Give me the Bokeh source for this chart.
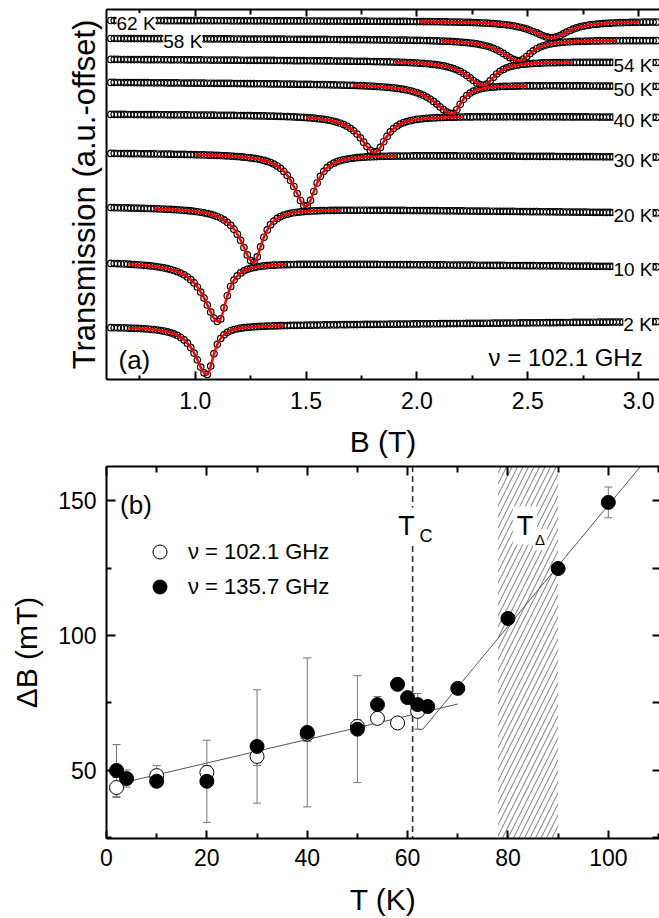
import numpy as np
from bokeh.plotting import figure
from bokeh.layouts import column
from bokeh.models import (Range1d, LinearAxis, FixedTicker, NumeralTickFormatter,
                          CustomJSTickFormatter, Label, Legend, LegendItem)
from bokeh.embed import file_html
from bokeh.resources import INLINE

FONT = "Liberation Sans"

# ---------------- panel (a): transmission spectra at 102.1 GHz ----------------
temp_labels = ["2 K", "10 K", "20 K", "30 K", "40 K", "50 K", "54 K", "58 K", "62 K"]
res_center = [1.053, 1.105, 1.263, 1.50, 1.81, 2.16, 2.30, 2.46, 2.61]      # T
res_depth = [4.9, 5.9, 5.4, 5.2, 3.7, 2.9, 2.4, 2.1, 1.65]                  # a.u.
hw_left = [0.065, 0.08, 0.07, 0.07, 0.08, 0.10, 0.09, 0.095, 0.11]          # T
hw_right = [0.037, 0.045, 0.05, 0.055, 0.062, 0.05, 0.063, 0.068, 0.09]     # T
base_left = [5.3, 11.8, 17.3, 22.7, 26.6, 29.8, 32.1, 34.2, 36.0]           # offset, a.u.
base_right = [5.8, 11.3, 16.7, 22.3, 26.3, 29.4, 31.8, 34.0, 35.9]
fit_from = [0.70, 0.70, 0.81, 1.00, 1.50, 1.71, 1.90, 2.11, 2.01]
fit_to = [1.40, 1.41, 1.66, 1.91, 2.21, 2.50, 2.70, 2.90, 3.00]
label_side = ["right"] * 7 + ["left", "left"]
label_B = [2.931, 2.886, 2.886, 2.886, 2.886, 2.886, 2.886, 0.856, 0.645]
B_first, B_last, B_step = 0.62, 3.09, 0.015
a_major = [1.0, 1.5, 2.0, 2.5, 3.0]
a_minor = [0.75, 1.25, 1.75, 2.25, 2.75]

# ---------------- panel (b): linewidth vs temperature ----------------
T_low = [2, 10, 20, 30, 40, 50, 54, 58, 62]
dB_low = [43.7, 48.1, 49.3, 55.2, 63.5, 66.3, 69.3, 67.6, 71.9]
err_low = [3.7, 3.7, 2.5, 3.4, 2.8, 2.5, 2.0, 2.0, 6.6]
T_high = [2, 4, 10, 20, 30, 40, 50, 54, 58, 60, 62, 64, 70, 80, 90, 100]
dB_high = [50.0, 47.0, 46.0, 46.0, 58.9, 64.1, 65.3, 74.4, 81.9, 77.0, 74.4, 73.7, 80.4,
           106.3, 124.8, 149.3]
err_high = [9.6, 3.2, 2.0, 15.2, 21.0, 27.6, 19.8, 3.0, 2.0, 2.0, 2.0, 2.0, 2.0, 2.0, 2.0, 5.7]
fit1_T = [2, 70]
fit1_dB = [44.9, 74.6]
fit2_T = [61.8, 63.0, 110.0]
fit2_dB = [65.2, 65.2, 170.7]
T_C = 61
T_delta = [78, 90]
b_xmajor = [0, 20, 40, 60, 80, 100]
b_xminor = [10, 30, 50, 70, 90, 110]
b_ymajor = [50, 100, 150]
b_yminor = [25, 75, 125]


def model(B, i):
    B = np.asarray(B, dtype=float)
    frac = (B - B_first) / (B_last - B_first)
    base = base_left[i] + (base_right[i] - base_left[i]) * frac
    w = np.where(B < res_center[i], hw_left[i], hw_right[i])
    return base - res_depth[i] / (1.0 + ((B - res_center[i]) / w) ** 2)


def style_axis(ax, major_in, minor_in, show_labels=True):
    ax.axis_line_width = 2
    ax.axis_line_color = "black"
    ax.major_tick_in = major_in
    ax.major_tick_out = 0
    ax.minor_tick_in = minor_in
    ax.minor_tick_out = 0
    ax.major_tick_line_width = 2
    ax.minor_tick_line_width = 2
    ax.major_tick_line_color = "black"
    ax.minor_tick_line_color = "black"
    ax.major_label_text_font = FONT
    ax.major_label_text_font_size = "23px"
    ax.major_label_text_color = "black"
    ax.axis_label_text_font = FONT
    ax.axis_label_text_font_size = "30px"
    ax.axis_label_text_font_style = "normal"
    ax.axis_label_text_color = "black"
    if not show_labels:
        ax.formatter = CustomJSTickFormatter(code="return ''")
        ax.major_label_text_font_size = "0px"
        ax.major_label_standoff = 0


# ======================= figure (a) =======================
p1 = figure(width=659, height=460, x_range=Range1d(0.6, 3.094), y_range=Range1d(0, 37.1),
            x_axis_type=None, y_axis_type=None, output_backend="svg", toolbar_location=None,
            min_border_left=106, min_border_right=0, min_border_top=9, min_border_bottom=80)
p1.outline_line_color = None

xa = LinearAxis(ticker=FixedTicker(ticks=a_major, minor_ticks=a_minor),
                formatter=NumeralTickFormatter(format="0.0"), axis_label="B (T)")
style_axis(xa, 8, 4)
xa.major_label_standoff = 12
xa.axis_label_standoff = 13
p1.add_layout(xa, "below")

xa_top = LinearAxis(ticker=FixedTicker(ticks=a_major, minor_ticks=a_minor))
style_axis(xa_top, 7, 5, show_labels=False)
p1.add_layout(xa_top, "above")

ya = LinearAxis(ticker=FixedTicker(ticks=[], minor_ticks=[]), axis_label="Transmission (a.u.-offset)")
style_axis(ya, 0, 0, show_labels=False)
ya.axis_label_text_font_size = "31px"
ya.axis_label_standoff = 5
p1.add_layout(ya, "left")

B_data = np.arange(B_first, B_last + 1e-9, B_step)
for i in range(len(temp_labels)):
    p1.scatter(B_data, model(B_data, i), marker="circle", size=6.5, fill_color=None,
               line_color="black", line_width=1.2)
for i in range(len(temp_labels)):
    Bf = np.linspace(fit_from[i], fit_to[i], 400)
    p1.line(Bf, model(Bf, i), line_color="#ff0000", line_width=2.5)

for i, t in enumerate(temp_labels):
    yb = base_left[i] if label_side[i] == "left" else base_right[i]
    p1.add_layout(Label(x=label_B[i], y=yb - 0.3, text=t, text_font=FONT, text_font_size="19px",
                        text_baseline="middle", text_align="left", background_fill_color="white",
                        text_color="black"))

p1.add_layout(Label(x=0.654, y=2.0, text="(a)", text_font=FONT, text_font_size="26px",
                    text_baseline="middle", text_color="black"))
p1.add_layout(Label(x=3.018, y=2.2, text="ν = 102.1 GHz", text_font=FONT, text_font_size="24px",
                    text_baseline="middle", text_align="right", text_color="black"))

# ======================= figure (b) =======================
y_lo, y_hi = 24.8, 162.6
p2 = figure(width=659, height=458, x_range=Range1d(0, 110.2), y_range=Range1d(y_lo, y_hi),
            x_axis_type=None, y_axis_type=None, output_backend="svg", toolbar_location=None,
            min_border_left=106, min_border_right=0, min_border_top=6, min_border_bottom=80)
p2.outline_line_color = None

xb = LinearAxis(ticker=FixedTicker(ticks=b_xmajor, minor_ticks=b_xminor), axis_label="T (K)")
style_axis(xb, 8, 5)
xb.major_label_standoff = 10
xb.axis_label_standoff = 14
p2.add_layout(xb, "below")

xb_top = LinearAxis(ticker=FixedTicker(ticks=b_xmajor, minor_ticks=b_xminor))
style_axis(xb_top, 9, 6, show_labels=False)
p2.add_layout(xb_top, "above")

yb = LinearAxis(ticker=FixedTicker(ticks=b_ymajor, minor_ticks=b_yminor), axis_label="ΔB (mT)")
style_axis(yb, 9, 5)
yb.major_label_standoff = 10
yb.axis_label_standoff = 12
p2.add_layout(yb, "left")

yb_r = LinearAxis(ticker=FixedTicker(ticks=b_ymajor, minor_ticks=b_yminor))
style_axis(yb_r, 7, 7, show_labels=False)
yb_r.axis_line_color = None
p2.add_layout(yb_r, "right")

# shaded T_delta band
p2.quad(left=[T_delta[0]], right=[T_delta[1]], bottom=[y_lo - 5], top=[y_hi + 5],
        fill_color=None, line_color=None, hatch_pattern="/", hatch_color="#777777",
        hatch_weight=1, hatch_scale=11)
# T_C
p2.segment(x0=[T_C], y0=[y_lo - 5], x1=[T_C], y1=[y_hi + 5], line_color="#333333",
           line_width=1.6, line_dash="6 4")
# guide lines
p2.line(fit1_T, fit1_dB, line_color="#555555", line_width=1)
p2.line(fit2_T, fit2_dB, line_color="#555555", line_width=1)


def errorbars(T, v, e):
    T = np.asarray(T, float)
    v = np.asarray(v, float)
    e = np.asarray(e, float)
    p2.segment(x0=T, y0=v - e, x1=T, y1=v + e, line_color="#777777", line_width=1)
    p2.segment(x0=T - 0.8, y0=v - e, x1=T + 0.8, y1=v - e, line_color="#777777", line_width=1)
    p2.segment(x0=T - 0.8, y0=v + e, x1=T + 0.8, y1=v + e, line_color="#777777", line_width=1)


errorbars(T_low, dB_low, err_low)
errorbars(T_high, dB_high, err_high)

r_open = p2.scatter(T_low, dB_low, marker="circle", size=14, fill_color="white",
                    line_color="black", line_width=1)
r_fill = p2.scatter(T_high, dB_high, marker="circle", size=14, fill_color="black",
                    line_color="black", line_width=1)

legend = Legend(items=[LegendItem(label="ν = 102.1 GHz", renderers=[r_open]),
                       LegendItem(label="ν = 135.7 GHz", renderers=[r_fill])],
                location=(36, 234), glyph_width=35, glyph_height=35, label_standoff=11,
                spacing=0, padding=0, margin=0, border_line_color=None,
                background_fill_alpha=0, label_text_font=FONT, label_text_font_size="22px",
                label_text_color="black")
p2.add_layout(legend)

p2.add_layout(Label(x=2.7, y=148.5, text="(b)", text_font=FONT, text_font_size="26px",
                    text_baseline="middle", text_color="black"))
# T_C label
p2.add_layout(Label(x=T_C, y=140.7, x_offset=-6, text="T", text_font=FONT, text_font_size="27px",
                    text_baseline="middle", text_align="center", background_fill_color="white",
                    padding=3, text_color="black"))
p2.add_layout(Label(x=T_C, y=140.7, x_offset=5, y_offset=-10, text="C", text_font=FONT,
                    text_font_size="18px", text_baseline="middle", text_align="left",
                    background_fill_color="white", padding=2, text_color="black"))
# T_delta label
p2.add_layout(Label(x=83.4, y=140.7, text="T", text_font=FONT, text_font_size="27px",
                    text_baseline="middle", text_align="center", background_fill_color="white",
                    padding=4, text_color="black"))
p2.add_layout(Label(x=83.4, y=140.7, x_offset=8, y_offset=-14, text="Δ", text_font=FONT,
                    text_font_size="15px", text_baseline="middle", text_align="left",
                    background_fill_color="white", padding=2, text_color="black"))

layout = column(p1, p2, spacing=0)
open("out.html", "w").write(file_html(layout, INLINE))
